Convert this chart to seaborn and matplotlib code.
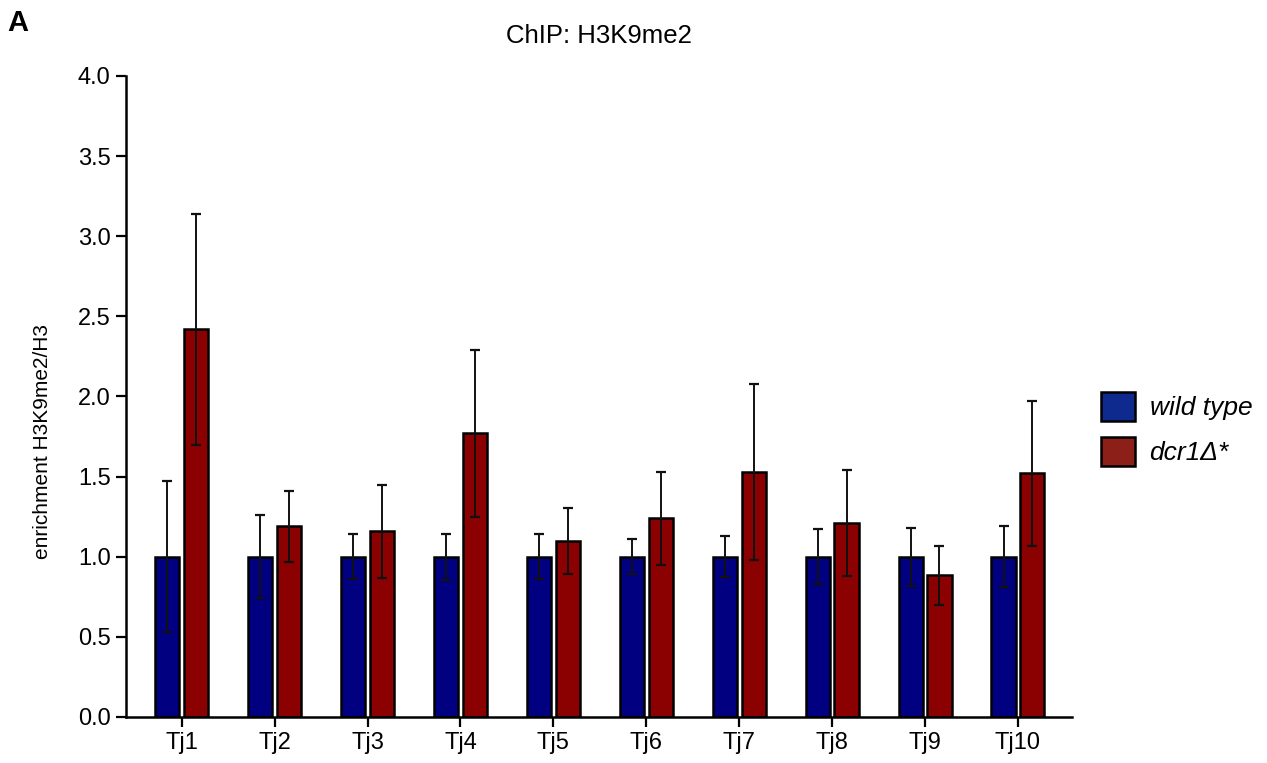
import numpy as np
import pandas as pd
import matplotlib
matplotlib.use("Agg")
import matplotlib.pyplot as plt
from matplotlib.patches import Patch
import seaborn as sns

# Loci and strains
loci = ["Tj1", "Tj2", "Tj3", "Tj4", "Tj5", "Tj6", "Tj7", "Tj8", "Tj9", "Tj10"]
strains = ["wild type", "dcr1Δ*"]

# Mean enrichment H3K9me2/H3 (wild type normalised to 1)
wt_mean = [1.00, 1.00, 1.00, 1.00, 1.00, 1.00, 1.00, 1.00, 1.00, 1.00]
dcr_mean = [2.42, 1.19, 1.16, 1.77, 1.10, 1.24, 1.53, 1.21, 0.885, 1.52]

# Error bar half-lengths
wt_err = [0.47, 0.26, 0.14, 0.145, 0.14, 0.11, 0.128, 0.17, 0.18, 0.19]
dcr_err = [0.72, 0.22, 0.29, 0.52, 0.205, 0.29, 0.55, 0.33, 0.185, 0.45]

y_ticks = [0.0, 0.5, 1.0, 1.5, 2.0, 2.5, 3.0, 3.5, 4.0]

bar_colors = ["#000080", "#8B0000"]
legend_colors = ["#0F2A8E", "#8C1F17"]

sns.set_theme(style="ticks")
plt.rcParams["font.family"] = ["Liberation Sans", "DejaVu Sans"]
plt.rcParams["text.color"] = "black"
plt.rcParams["axes.labelcolor"] = "black"

df = pd.DataFrame({
    "locus": loci * 2,
    "strain": [strains[0]] * len(loci) + [strains[1]] * len(loci),
    "enrichment": wt_mean + dcr_mean,
})

fig = plt.figure(figsize=(12.67, 7.63), dpi=100)
ax = fig.add_axes([0.0994, 0.0603, 0.7466, 0.8401])

sns.barplot(
    data=df, x="locus", y="enrichment", hue="strain",
    order=loci, hue_order=strains, palette=bar_colors,
    width=0.62, gap=0.16, errorbar=None, saturation=1,
    edgecolor="black", linewidth=1.8, legend=False, ax=ax,
)

# Error bars centred on each bar
for container, errs in zip(ax.containers, [wt_err, dcr_err]):
    xs = [p.get_x() + p.get_width() / 2 for p in container.patches]
    ys = [p.get_height() for p in container.patches]
    ax.errorbar(xs, ys, yerr=errs, fmt="none", ecolor="#111111",
                elinewidth=1.4, capsize=3.4, capthick=1.6, zorder=3)

ax.set_ylim(0, 4.0)
ax.set_xlim(-0.6, 9.58)
ax.set_yticks(y_ticks)
ax.set_yticklabels([f"{t:.1f}" for t in y_ticks])
ax.set_xlabel("")
ax.set_ylabel("enrichment H3K9me2/H3", fontsize=15)
ax.yaxis.set_label_coords(-0.078, 0.43)
ax.tick_params(axis="both", labelsize=17, width=1.6, length=7, color="black",
               labelcolor="black", direction="out")
ax.tick_params(axis="x", pad=4)
ax.tick_params(axis="y", pad=4)
for side in ["left", "bottom"]:
    ax.spines[side].set_linewidth(1.8)
    ax.spines[side].set_color("black")
sns.despine(ax=ax)

ax.set_title("ChIP: H3K9me2", fontsize=18.5, pad=24)

handles = [Patch(facecolor=c, edgecolor="black", linewidth=1.8) for c in legend_colors]
leg = fig.legend(handles, strains, loc="center left",
                 bbox_to_anchor=(0.85, 0.438), frameon=False,
                 prop={"style": "italic", "size": 19},
                 handlelength=1.3, handleheight=1.3,
                 labelspacing=0.62, handletextpad=0.55)

fig.text(0.006, 0.970, "A", fontsize=21, fontweight="bold", va="center", ha="left")

fig.savefig("out.png", dpi=100)
